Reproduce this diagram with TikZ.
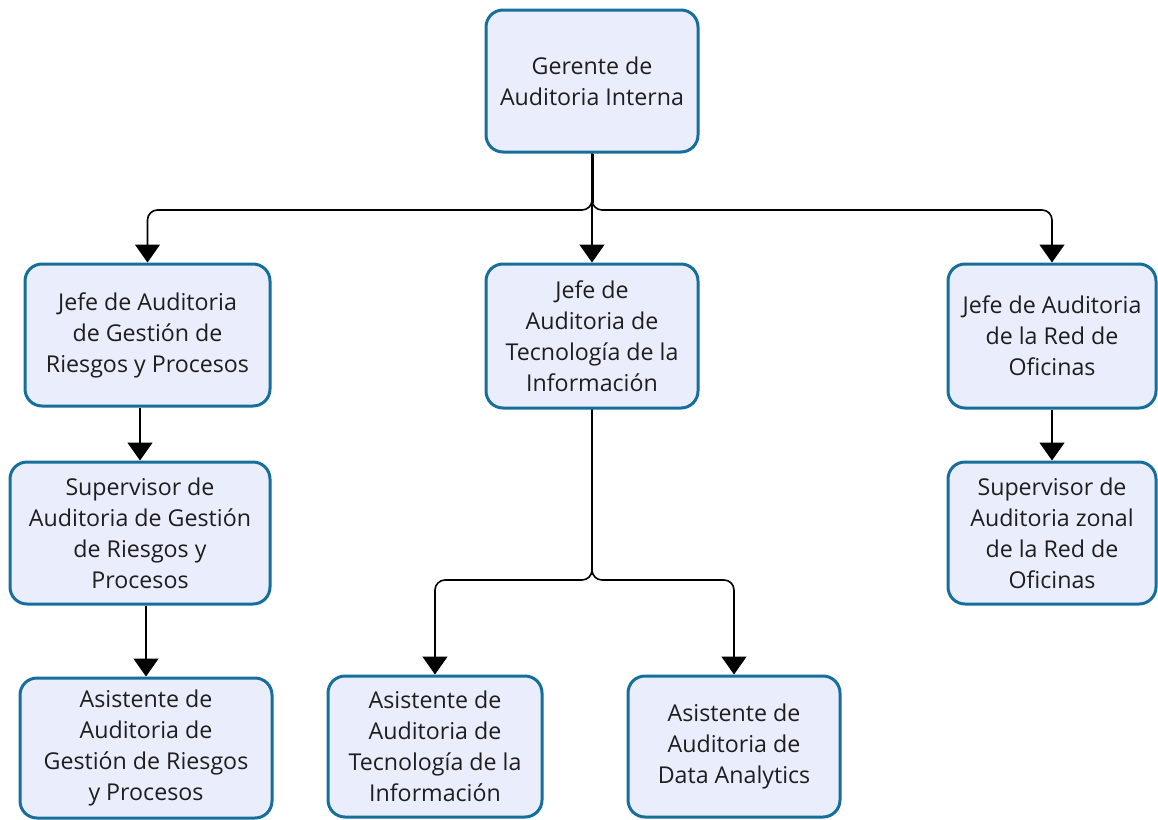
\documentclass[tikz,border=0pt]{standalone}
\usepackage{fontspec}
\setmainfont{Open Sans}
\usetikzlibrary{arrows.meta}
\definecolor{boxfill}{RGB}{234,238,252}
\definecolor{boxline}{RGB}{22,110,155}
\definecolor{txt}{RGB}{30,30,30}
\begin{document}
\begin{tikzpicture}[x=1pt,y=-1pt,
  orgbox/.style={draw=boxline,fill=boxfill,line width=3pt,rounded corners=17pt,
    align=center,text=txt,font=\fontsize{23.2}{31}\selectfont,inner sep=0pt},
  link/.style={line width=1.6pt,rounded corners=10pt},
  tip/.style={-{Triangle[width=25pt,length=18pt]}}]
\useasboundingbox (0,0) rectangle (1158,819);
\fill[white] (0,0) rectangle (1158,819);

\node[orgbox,minimum width=212pt,minimum height=142pt] (g) at (592,81) {Gerente de\\Auditoria Interna};
\node[orgbox,minimum width=245pt,minimum height=142pt] (jl) at (147.5,335) {Jefe de Auditoria\\de Gestión de\\Riesgos y Procesos};
\node[orgbox,minimum width=212pt,minimum height=144pt] (jm) at (592,336) {Jefe de\\Auditoria de\\Tecnología de la\\Información};
\node[orgbox,minimum width=208pt,minimum height=144pt] (jr) at (1052,336) {Jefe de Auditoria\\de la Red de\\Oficinas};
\node[orgbox,minimum width=260pt,minimum height=142pt] (sl) at (140,533) {Supervisor de\\Auditoria de Gestión\\de Riesgos y\\Procesos};
\node[orgbox,minimum width=208pt,minimum height=142pt] (sr) at (1052,533) {Supervisor de\\Auditoria zonal\\de la Red de\\Oficinas};
\node[orgbox,minimum width=252pt,minimum height=140pt] (al) at (146,748) {Asistente de\\Auditoria de\\Gestión de Riesgos\\y Procesos};
\node[orgbox,minimum width=214pt,minimum height=141pt] (at) at (435,746.5) {Asistente de\\Auditoria de\\Tecnología de la\\Información};
\node[orgbox,minimum width=212pt,minimum height=141pt] (ad) at (734,746.5) {Asistente de\\Auditoria de\\Data Analytics};

\coordinate (bus) at (592,210);
\coordinate (bus2) at (592,580);

% top level
\draw[line width=3pt] (g.south) -- (592,203);
\draw[link,tip] (g.south) -- (bus) -| (jl.north);
\draw[link,tip] (g.south) -- (bus) -| (jr.north);
\draw[link,tip] (592,200) -- (jm.north);

% left column
\draw[link,tip] (jl.south -| sl.north) -- (sl.north);
\draw[link,tip] (sl.south -| al.north) -- (al.north);

% right column
\draw[link,tip] (jr.south) -- (sr.north);

% middle column
\draw[link,tip] (jm.south) -- (bus2) -| (at.north);
\draw[link,tip] (jm.south) -- (bus2) -| (ad.north);
\end{tikzpicture}
\end{document}
